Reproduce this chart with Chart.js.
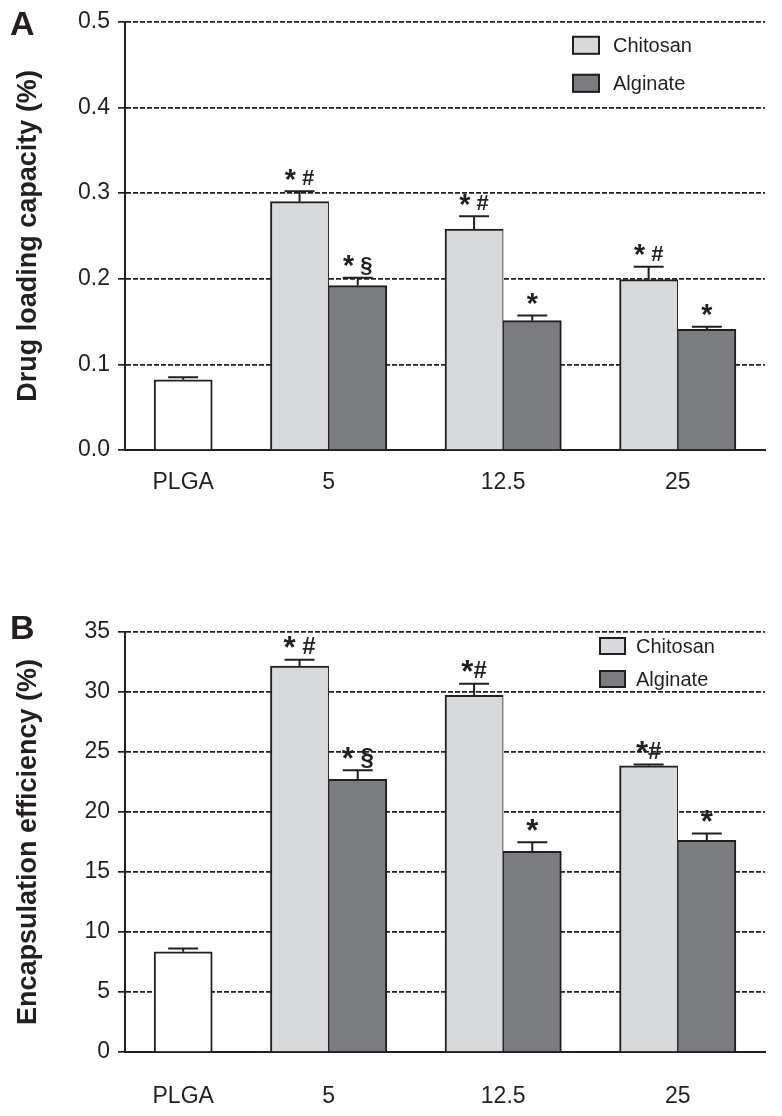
<!DOCTYPE html>
<html>
<head>
<meta charset="utf-8">
<title>Drug loading / encapsulation</title>
<script src="https://cdn.jsdelivr.net/npm/chart.js@4.4.1/dist/chart.umd.min.js"></script>
<style>
  body { margin: 0; background: #fff; }
  canvas { display: block; }
</style>
</head>
<body>
<canvas id="loadingChart" width="782" height="540"></canvas>
<canvas id="efficiencyChart" width="782" height="576"></canvas>
<script>
// grupper på x-axeln
const groups = ["PLGA", "5", "12.5", "25"];
const seriesNames = ["Chitosan", "Alginate"];

// A: drug loading capacity (%)
const plgaLoading = 0.082;
const plgaLoadingErr = 0.003;
const chitosanLoading = [0.290, 0.258, 0.199];
const chitosanLoadingErr = [0.012, 0.015, 0.015];
const alginateLoading = [0.192, 0.151, 0.141];
const alginateLoadingErr = [0.009, 0.006, 0.003];
const loadingTicks = [0, 0.1, 0.2, 0.3, 0.4, 0.5];

// B: encapsulation efficiency (%)
const plgaEfficiency = 8.35;
const plgaEfficiencyErr = 0.28;
const chitosanEfficiency = [32.15, 29.73, 23.85];
const chitosanEfficiencyErr = [0.53, 0.95, 0.11];
const alginateEfficiency = [22.73, 16.73, 17.63];
const alginateEfficiencyErr = [0.75, 0.75, 0.58];
const efficiencyTicks = [0, 5, 10, 15, 20, 25, 30, 35];

// signifikansmarkeringar
const chitosanSigA = ["* #", "* #", "* #"];
const alginateSigA = ["* §", "*", "*"];
const chitosanSigB = ["* #", "*#", "*#"];
const alginateSigB = ["* §", "*", "*"];

const INK = "#231f20";
const FONT = "'Liberation Sans', Arial, Helvetica, sans-serif";
Chart.defaults.font.family = FONT;
Chart.defaults.color = INK;

/**
 * Plats på x-axeln (i stapelbredder): PLGA ensam, sedan par om två.
 */
function slot(groupIndex, seriesIndex) {
    return groupIndex === 0 ? 1 : 3 * groupIndex + seriesIndex;
}
const groupCenters = groups.map((g, i) => (i === 0 ? slot(0, 0) : slot(i, 0) + 0.5));

/**
 * Skriver t.ex. "* #" centrerat; stjärnan görs större och sänks lite.
 */
function drawSig(ctx, text, cx, cy, size) {
    const star = size * 1.3;
    const base = cy + 0.358 * size;
    const parts = text.split("").map((ch) => {
        const s = ch === "*" ? star : size;
        ctx.font = "bold " + s + "px " + FONT;
        return { ch, s, w: ctx.measureText(ch).width };
    });
    let x = cx - parts.reduce((a, p) => a + p.w, 0) / 2;
    ctx.textAlign = "left";
    ctx.textBaseline = "alphabetic";
    parts.forEach((p) => {
        ctx.font = "bold " + p.s + "px " + FONT;
        const y = p.ch === "*" ? base - 0.358 * size + 0.4 * p.s : base;
        ctx.fillText(p.ch, x, y);
        x += p.w;
    });
}

// felstaplar + stjärnor
const errorBars = {
    id: "errorBars",
    afterDatasetsDraw(chart, args, o) {
        const { ctx } = chart;
        const y = chart.scales.y;
        chart.data.datasets.forEach((ds, di) => {
            const meta = chart.getDatasetMeta(di);
            meta.data.forEach((bar, i) => {
                const top = y.getPixelForValue(ds.data[i].y + ds.err[i]);
                ctx.save();
                ctx.strokeStyle = INK;
                ctx.lineWidth = 2;
                ctx.beginPath();
                ctx.moveTo(bar.x, bar.y);
                ctx.lineTo(bar.x, top);
                ctx.moveTo(bar.x - 15, top);
                ctx.lineTo(bar.x + 15, top);
                ctx.stroke();
                if (ds.sig && ds.sig[i]) {
                    ctx.fillStyle = INK;
                    drawSig(ctx, ds.sig[i], bar.x, top - o.sigGap, o.sigSize);
                }
                ctx.restore();
            });
        });
    },
};

// egen legend inne i ritytan + panelbokstav
const boxLegend = {
    id: "boxLegend",
    afterDraw(chart, args, o) {
        const { ctx, chartArea } = chart;
        ctx.save();
        chart.data.datasets.filter((d) => d.inLegend).forEach((d, i) => {
            const x = chartArea.right - o.fromRight;
            const y = chartArea.top + o.top + i * o.rowGap;
            ctx.fillStyle = d.backgroundColor;
            ctx.fillRect(x, y, o.boxW, o.boxH);
            ctx.strokeStyle = INK;
            ctx.lineWidth = 2;
            ctx.strokeRect(x + 1, y + 1, o.boxW - 2, o.boxH - 2);
            ctx.fillStyle = INK;
            ctx.font = "20px " + FONT;
            ctx.textAlign = "left";
            ctx.textBaseline = "middle";
            ctx.fillText(d.label, x + o.textGap, y + o.boxH / 2 + 1);
        });
        ctx.font = "bold 34px " + FONT;
        ctx.textBaseline = "alphabetic";
        ctx.fillText(o.letter, 10, o.letterY);
        ctx.restore();
    },
};

function makeDatasets(plga, plgaErr, chit, chitErr, alg, algErr, chitSig, algSig) {
    return [
        {
            label: "PLGA",
            data: [{ x: slot(0, 0), y: plga }],
            err: [plgaErr],
            backgroundColor: "#ffffff",
            borderColor: INK,
            borderWidth: 2,
        },
        {
            label: seriesNames[0],
            inLegend: true,
            data: chit.map((v, i) => ({ x: slot(i + 1, 0), y: v })),
            err: chitErr,
            sig: chitSig,
            backgroundColor: "#d8d9db",
            borderColor: INK,
            borderWidth: { top: 2, left: 2, right: 1, bottom: 0 },
        },
        {
            label: seriesNames[1],
            inLegend: true,
            data: alg.map((v, i) => ({ x: slot(i + 1, 1), y: v })),
            err: algErr,
            sig: algSig,
            backgroundColor: "#7b7c80",
            borderColor: INK,
            borderWidth: { top: 2, left: 1, right: 2, bottom: 0 },
        },
    ];
}

function renderPanel(canvas, p) {
    return new Chart(canvas, {
        type: "bar",
        data: { datasets: p.datasets },
        options: {
            responsive: false,
            animation: false,
            devicePixelRatio: 1,
            layout: { padding: { top: p.padTop, right: 17, left: 0, bottom: 0 } },
            datasets: { bar: { grouped: false, categoryPercentage: 1, barPercentage: 1 } },
            plugins: {
                legend: { display: false },
                tooltip: { enabled: false },
                errorBars: { sigSize: p.sigSize, sigGap: 14 },
                boxLegend: p.legend,
            },
            scales: {
                x: {
                    type: "linear",
                    min: 0,
                    max: 11,
                    offset: false,
                    afterFit: (s) => { s.height = p.xHeight; },
                    afterBuildTicks: (s) => { s.ticks = groupCenters.map((v) => ({ value: v })); },
                    ticks: {
                        autoSkip: false,
                        maxRotation: 0,
                        padding: p.xPad,
                        font: { size: 23 },
                        color: INK,
                        callback: (v, i) => groups[i],
                    },
                    grid: { display: false, drawTicks: false, offset: false },
                    border: { display: true, color: INK, width: 2 },
                },
                y: {
                    min: 0,
                    max: p.ticks[p.ticks.length - 1],
                    afterFit: (s) => { s.width = 125; },
                    afterBuildTicks: (s) => { s.ticks = p.ticks.map((v) => ({ value: v })); },
                    ticks: { padding: 8, font: { size: 23 }, color: INK, callback: p.fmt },
                    grid: { color: INK, lineWidth: 1.7, tickLength: 7 },
                    border: { display: true, color: INK, width: 2, dash: [5, 2] },
                    title: {
                        display: true,
                        text: p.yTitle,
                        color: INK,
                        font: { size: 27, weight: "bold" },
                        padding: { top: 12, bottom: 0 },
                    },
                },
            },
        },
        plugins: [errorBars, boxLegend],
    });
}

renderPanel(document.querySelector("#loadingChart"), {
    datasets: makeDatasets(plgaLoading, plgaLoadingErr, chitosanLoading, chitosanLoadingErr,
        alginateLoading, alginateLoadingErr, chitosanSigA, alginateSigA),
    ticks: loadingTicks,
    fmt: (v) => Number(v).toFixed(1),
    yTitle: "Drug loading capacity (%)",
    padTop: 19,
    xHeight: 90,
    xPad: 19,
    sigSize: 22,
    legend: { fromRight: 193, top: 14, rowGap: 38, boxW: 28, boxH: 19, textGap: 41, letter: "A", letterY: 35 },
});

renderPanel(document.querySelector("#efficiencyChart"), {
    datasets: makeDatasets(plgaEfficiency, plgaEfficiencyErr, chitosanEfficiency, chitosanEfficiencyErr,
        alginateEfficiency, alginateEfficiencyErr, chitosanSigB, alginateSigB),
    ticks: efficiencyTicks,
    fmt: (v) => String(v),
    yTitle: "Encapsulation efficiency (%)",
    padTop: 92,
    xHeight: 64,
    xPad: 31,
    sigSize: 24,
    legend: { fromRight: 166, top: 5, rowGap: 33, boxW: 27, boxH: 18, textGap: 37, letter: "B", letterY: 99 },
});
</script>
</body>
</html>
